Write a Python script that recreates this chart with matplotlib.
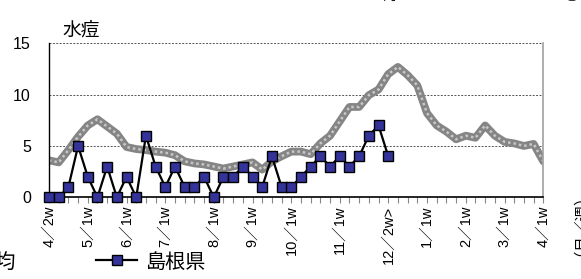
import numpy as np
import matplotlib
matplotlib.use("Agg")
import matplotlib.pyplot as plt
from matplotlib.lines import Line2D

plt.rcParams['font.family'] = ['Liberation Sans', 'Noto Sans CJK JP', 'DejaVu Sans']
CJK = ['Noto Sans CJK JP', 'DejaVu Sans']

# week index 0 = 4/2w ... 51 = 4/1w
tick_pos = [0, 4, 8, 12, 17, 21, 25, 30, 35, 39, 43, 47, 51]
tick_labels = ['4／2w', '5／1w', '6／1w', '7／1w', '8／1w', '9／1w', '10／1w',
               '11／1w', '12／2w>', '1／1w', '2／1w', '3／1w', '4／1w']

national_avg = [3.6, 3.4, 4.6, 5.9, 7.0, 7.6, 6.9, 6.2, 4.9, 4.7,
                4.6, 4.45, 4.35, 4.1, 3.5, 3.3, 3.2, 3.0, 2.8, 3.0,
                3.2, 3.4, 2.7, 3.5, 4.0, 4.45, 4.45, 4.2, 5.25, 6.0,
                7.4, 8.8, 8.8, 9.95, 10.5, 12.0, 12.7, 11.9, 10.9, 8.2,
                7.0, 6.4, 5.65, 6.0, 5.8, 7.0, 6.0, 5.4, 5.25, 5.0,
                5.2, 3.5]

shimane = [0, 0, 1, 5, 2, 0, 3, 0, 2, 0,
           6, 3, 1, 3, 1, 1, 2, 0, 2, 2,
           3, 2, 1, 4, 1, 1, 2, 3, 4, 3,
           4, 3, 4, 6, 7, 4]

fig = plt.figure(figsize=(5.81, 2.79), dpi=100)
ax = fig.add_axes([49 / 581, 1 - 197.3 / 279, (543.3 - 49) / 581, (197.3 - 43.3) / 279])

x_avg = np.arange(len(national_avg))
x_sh = np.arange(len(shimane))

# textured grey band for the average
ax.plot(x_avg, national_avg, color='#858585', lw=5.6, solid_capstyle='round',
        solid_joinstyle='round', zorder=2)
ax.plot(x_avg, national_avg, color='#c8c8c8', lw=1.8, ls=(0, (1, 1.2)), zorder=2)

ax.plot(x_sh, shimane, color='black', lw=1.6, marker='s', ms=7.2,
        mfc='#333399', mec='black', mew=1.0, zorder=3, clip_on=False)

ax.set_xlim(0, 51)
ax.set_ylim(0, 15)
ax.set_yticks([0, 5, 10, 15])
ax.set_yticklabels(['0', '5', '10', '15'], fontsize=11.5)
ax.tick_params(axis='y', length=0, pad=13)

ax.set_xticks(np.arange(0, 52), minor=True)
ax.set_xticks(tick_pos)
ax.set_xticklabels(tick_labels, rotation=90, fontsize=10.5)
ax.tick_params(axis='x', which='both', length=4.5, width=0.8, color='#888888', pad=1.5)

for v in [5, 10, 15]:
    ax.axhline(v, color='#555555', lw=0.7, ls=(0, (2, 1.5)), zorder=1)

ax.spines['top'].set_visible(False)
ax.spines['right'].set_color('#a0a0a0')
ax.spines['right'].set_linewidth(1.2)
ax.spines['left'].set_linewidth(1.0)
ax.spines['bottom'].set_linewidth(1.2)

fig.text(62 / 581, 1 - 30 / 279, '水痘', fontsize=13.5, va='center', ha='left', family=CJK)
fig.text(572 / 581, 1 - 217 / 279, '（月／週）', fontsize=11.2, rotation=90,
         rotation_mode='anchor', va='center', ha='center', family=CJK)

# legend (left part cut off in the original)
h_avg = Line2D([], [], color='#858585', lw=5.5)
h_sh = Line2D([], [], color='black', lw=1.6, marker='s', ms=7.2, mfc='#333399', mec='black')
fig.legend([h_avg, h_sh], ['全国平均', '島根県'], ncol=2, frameon=False,
           loc='center left', bbox_to_anchor=(-0.2255, 1 - 262 / 279),
           prop={'family': CJK, 'size': 14.5}, handlelength=2.0,
           columnspacing=4.0, handletextpad=0.4)

# cut-off text at the top edge
fig.text(390 / 581, 1 + 4 / 279, '的', fontsize=10, va='center', ha='center', family=CJK)
fig.text(571 / 581, 1 + 5 / 279, '①', fontsize=13, va='center', ha='center', family=CJK)

fig.savefig('out.png', dpi=100)
